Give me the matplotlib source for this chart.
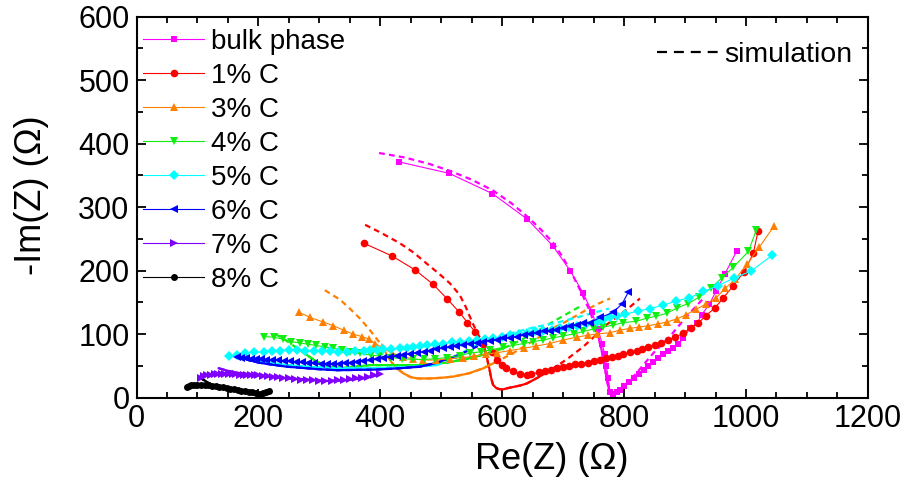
import matplotlib
matplotlib.use("Agg")
import matplotlib.pyplot as plt
from matplotlib.lines import Line2D
import numpy as np

plt.rcParams['font.family'] = ['Liberation Sans', 'DejaVu Sans']

# ---- experimental data (Re(Z), -Im(Z)) in Ohm ----
bulk_re = [431, 513, 584, 641, 683, 712, 733, 747, 757, 764, 768, 771, 774, 777,
           782, 788, 794, 800, 808, 816, 824, 832, 840, 848, 856, 864, 872, 880,
           889, 897, 908, 920, 927, 940, 951, 965, 985]
bulk_im = [371, 353, 321, 281, 239, 199, 164, 135, 108, 85, 68, 50, 30, 8,
           5, 8, 12, 18, 25, 31, 37, 44, 50, 56, 62, 68, 73, 78,
           84, 93, 109, 117, 130, 147, 168, 194, 231]

c1_re = [373, 419, 457, 487, 510, 529, 543, 556, 569, 583, 591, 599, 607, 618,
         629, 640, 648, 660, 670, 680, 690, 700, 710, 720, 730, 740, 750, 760,
         770, 780, 790, 799, 810, 821, 830, 840, 850, 861, 872, 883, 897, 909,
         922, 934, 949, 963, 979, 997, 1012, 1020]
c1_im = [243, 223, 201, 178, 155, 135, 118, 103, 85, 71, 59, 51, 46, 41,
         37, 35, 36.5, 40, 42, 44, 46, 48, 50, 52, 53, 55, 57, 59,
         62, 64, 66, 68, 71, 74, 77, 80, 82, 86, 90, 95, 101, 110,
         117, 129, 141, 157, 176, 198, 227, 263]

c3_re = [267, 285, 306, 323, 340, 356, 370, 381, 392, 402, 419, 438, 454, 470,
         492, 514, 536, 553, 574, 591, 613, 635, 656, 678, 700, 722, 740, 755,
         777, 793, 810, 825, 840, 856, 871, 887, 901, 918, 934, 951, 966, 982,
         1002, 1022, 1046]
c3_im = [134, 126, 119, 113, 106, 99.5, 96, 92, 85, 79, 70, 64, 61, 59,
         59, 61, 63, 65, 68.5, 70.5, 74, 77.5, 81, 85, 90.5, 95, 98, 100,
         102, 106, 109, 111, 113, 116, 119, 124, 130, 139, 147, 157, 172, 186,
         210, 237, 270]

c4_re = [210, 225, 240, 253, 268, 281, 295, 309, 323, 337, 351, 367, 384, 400,
         418, 436, 454, 472, 490, 510, 530, 547, 565, 580, 602, 618, 635, 651,
         667, 684, 700, 717, 733, 750, 766, 782, 799, 820, 837, 853, 870, 887,
         905, 923, 942, 960, 979, 1004, 1017]
c4_im = [96, 95, 92, 88, 86, 84, 82, 79.5, 77.5, 75, 72, 69.6, 67, 65,
         63, 61, 60, 60, 61, 63, 66, 70, 72, 75, 79, 82, 85, 88,
         90.5, 94, 97, 100, 104, 108, 111, 114, 118, 120, 125, 128, 132.6, 141,
         148, 158, 172, 188, 205, 230, 264]

c5_re = [151, 165, 178, 193, 209, 222, 236, 250, 263, 277, 291, 304, 318, 331,
         345, 359, 373, 383, 394, 405, 418, 432, 443, 454, 465, 476, 490, 503,
         517, 531, 545, 558, 572, 585, 599, 613, 627, 640, 654, 667, 681, 695,
         709, 722, 738, 755, 766, 777, 788, 801, 822, 842, 863, 885, 907, 930,
         954, 980, 1008, 1043]
c5_im = [65, 67, 70, 71, 72, 73, 74, 75, 75, 74, 74, 73, 73, 72,
         72, 73, 74, 75, 75.5, 76, 76.5, 77.5, 78, 79, 81, 83, 84, 85,
         87, 88, 89, 90.5, 92, 93, 95, 98, 100, 102, 104, 105, 107, 109,
         111, 112.6, 116, 119, 122, 126, 128, 131, 136, 140, 145, 152, 157, 167,
         176, 188, 199, 224]

c6_re = [165, 172, 180, 188, 196, 205, 213, 222, 232, 242, 252, 262, 272, 282,
         292, 302, 312, 322, 332, 342, 352, 362, 372, 383, 394, 405, 416, 427,
         438, 449, 460, 471, 481, 492, 503, 514, 525, 536, 547, 558, 569, 580,
         591, 602, 613, 624, 635, 646, 657, 668, 678, 689, 700, 711, 722, 733,
         744, 761, 782, 797, 807]
c6_im = [64, 63, 62, 61, 60.5, 60, 59.5, 59, 58.5, 58, 57, 56, 55.5, 55,
         54, 53.5, 53, 53, 53, 54, 55, 56, 57, 58.5, 60, 62, 63.5, 65,
         67, 69, 70.5, 72, 74, 76, 77.5, 79, 81, 83, 85, 86.5, 88, 89.5,
         91, 93, 94.5, 96, 98, 100, 102, 104, 105.5, 107, 109, 112, 114, 118,
         118, 126, 134, 148, 166]

c7_re = [105, 110, 116, 122, 128, 134, 140, 146, 152, 158, 164, 170, 176, 182,
         188, 194, 200, 208, 216, 224, 232, 240, 250, 260, 270, 280, 290, 300,
         310, 320, 330, 340, 350, 360, 370, 380, 390, 400]
c7_im = [30, 34, 35, 36, 36.5, 37, 37, 37, 37, 36.5, 36.5, 36, 36, 35.5,
         35.5, 35, 35, 34, 33.5, 33, 32, 31, 30, 29, 28, 27.5, 27, 26.5,
         26.5, 26.5, 27, 27.5, 28.5, 30, 31.5, 33, 35, 37]

c8_re = [83, 86, 90, 95, 100, 106, 112, 118, 124, 130, 136, 142, 148, 154,
         160, 166, 172, 178, 184, 190, 196, 202, 207, 212, 217]
c8_im = [16, 18, 19, 20, 20, 20, 19.5, 19, 18.5, 18, 17, 16, 15, 14,
         13, 12, 11, 10, 9, 8, 7, 6, 7, 9, 11]

# ---- simulation curves ----
bulk_sim_re = [398, 440, 480, 514, 550, 585, 615, 640, 665, 684, 700, 717, 730,
               742, 752, 758, 763, 767, 770, 773, 776, 780, 785, 790, 820, 848,
               875, 902, 930]
bulk_sim_im = [385, 378, 368, 357, 343, 326, 306, 286, 263, 243, 220, 190, 165,
               140, 115, 95, 75, 55, 38, 22, 10, 6, 7, 8, 38, 70,
               96, 127, 156]
c1_sim_re = [375, 400, 432, 455, 476, 495, 514, 530, 540, 552, 560, 566, 571,
             575, 579, 582, 585, 590, 596, 602, 610, 620, 630, 640, 652, 665,
             677, 689, 710, 733, 750, 766, 790, 810, 826]
c1_sim_im = [272, 260, 243, 228, 211, 196, 180, 162, 143, 116, 100, 90, 78,
             62, 45, 30, 20, 15, 13, 13, 15, 17, 19, 22, 28, 35,
             42, 49, 63, 80, 95, 111, 128, 143, 156]
c3_sim_re = [309, 334, 350, 367, 383, 396, 405, 410, 418, 427, 438, 450, 462,
             480, 500, 520, 545, 569, 596, 618, 640, 656, 680, 700, 720, 738,
             758, 777]
c3_sim_im = [169, 154, 140, 124, 106, 90, 80, 68, 56, 46, 38, 32, 30,
             30, 31, 33, 38, 46, 59, 70, 83, 92, 108, 117, 128, 138,
             148, 156]
c4_sim_re = [228, 245, 260, 275, 290, 305, 318, 340, 383, 420, 465, 510, 547,
             575, 602, 630, 656, 690, 727]
c4_sim_im = [100, 90, 80, 70, 60, 52, 48, 47, 51, 51, 51, 55, 62,
             69, 77.5, 90, 104, 123, 143]
c5_sim_re = [165, 181, 210, 247, 290, 329, 383, 438, 492, 520, 542, 569, 610,
             650, 690, 730, 775]
c5_sim_im = [64, 62, 56, 51, 48, 46, 46, 47.5, 51, 60, 75, 88, 100,
             110, 118, 128, 140]
c6_sim_re = [165, 180, 200, 220, 247, 280, 300, 329, 360, 394, 430, 465, 490,
             520, 540, 558, 575]
c6_sim_im = [64, 60, 55, 52, 48.5, 46, 44.5, 43, 43.5, 44, 46, 48.5, 54,
             64, 72, 80, 88]
c7_sim_re = [135, 150, 165, 190, 220, 250, 280, 310, 340, 370, 395]
c7_sim_im = [46, 42, 39, 36, 33, 30, 28, 26, 27, 30, 35]
c8_sim_re = [104, 115, 126, 150, 180, 205, 220]
c8_sim_im = [31, 25, 19, 14, 8, 5, 12]

labels = ["bulk phase", "1% C", "3% C", "4% C", "5% C", "6% C", "7% C", "8% C"]
colors = ["#ff00ff", "#ff0000", "#ff8000", "#11ee11", "#00ffff", "#0000ff",
          "#8000ff", "#000000"]
markers = ["s", "o", "^", "v", "D", "<", ">", "o"]
msizes = [5, 5.5, 6, 6, 5, 6, 6, 5]

exp_data = [(bulk_re, bulk_im), (c1_re, c1_im), (c3_re, c3_im), (c4_re, c4_im),
            (c5_re, c5_im), (c6_re, c6_im), (c7_re, c7_im), (c8_re, c8_im)]
sim_data = [(bulk_sim_re, bulk_sim_im), (c1_sim_re, c1_sim_im),
            (c3_sim_re, c3_sim_im), (c4_sim_re, c4_sim_im),
            (c5_sim_re, c5_sim_im), (c6_sim_re, c6_sim_im),
            (c7_sim_re, c7_sim_im), (c8_sim_re, c8_sim_im)]
# Re range where the simulation points are dense (line looks solid there)
sim_solid = [(752, 790), (571, 689), (405, 596), (260, 602), (165, 500),
             (165, 520), (135, 395), (104, 220)]

fig = plt.figure(figsize=(9.07, 4.84), dpi=100)
ax = fig.add_axes([0.1505, 0.1787, 0.8064, 0.7872])

for (xs, ys), (lo, hi), col in zip(sim_data, sim_solid, colors):
    xs = np.array(xs)
    ys = np.array(ys)
    ax.plot(xs, ys, color=col, lw=1.6, linestyle=(0, (2.6, 1.9)), zorder=2)
    m = (xs >= lo) & (xs <= hi)
    ax.plot(xs[m], ys[m], color=col, lw=1.6, linestyle="-", zorder=2)

handles = []
for (xs, ys), lab, col, mk, ms in zip(exp_data, labels, colors, markers, msizes):
    h, = ax.plot(xs, ys, color=col, lw=0.8, marker=mk, markersize=ms,
                 markeredgewidth=0, label=lab, zorder=3)
    handles.append(h)

ax.set_xlim(0, 1200)
ax.set_ylim(0, 600)
ax.set_xticks(np.arange(0, 1201, 200))
ax.set_xticks(np.arange(0, 1201, 50), minor=True)
ax.set_yticks(np.arange(0, 601, 100))
ax.set_yticks(np.arange(0, 601, 50), minor=True)
ax.tick_params(which="both", direction="in", top=True, right=True,
               labelsize=22, width=1.3)
ax.tick_params(which="major", length=6.5, pad=5)
ax.tick_params(which="minor", length=4)
for sp in ax.spines.values():
    sp.set_linewidth(1.5)

ax.set_xlabel("Re(Z) (\u03a9)", fontsize=26)
ax.xaxis.set_label_coords(0.568, -0.118)
ax.set_ylabel("-Im(Z) (\u03a9)", fontsize=26)
ax.yaxis.set_label_coords(-0.12, 0.531)

leg1 = ax.legend(handles=handles, loc="upper left", frameon=False, fontsize=20,
                 handlelength=2.2, handletextpad=0.25, labelspacing=0.29,
                 borderaxespad=0, borderpad=0, bbox_to_anchor=(0.009, 0.968))
ax.add_artist(leg1)
sim_handle = Line2D([], [], color="black", lw=1.6, linestyle=(0, (4.5, 3.1)))
ax.legend(handles=[sim_handle], labels=["simulation"], loc="upper left",
          frameon=False, fontsize=20.5, handlelength=2.15, handletextpad=0.2,
          borderaxespad=0, borderpad=0, bbox_to_anchor=(0.7116, 0.933))

fig.savefig("out.png", dpi=100)
